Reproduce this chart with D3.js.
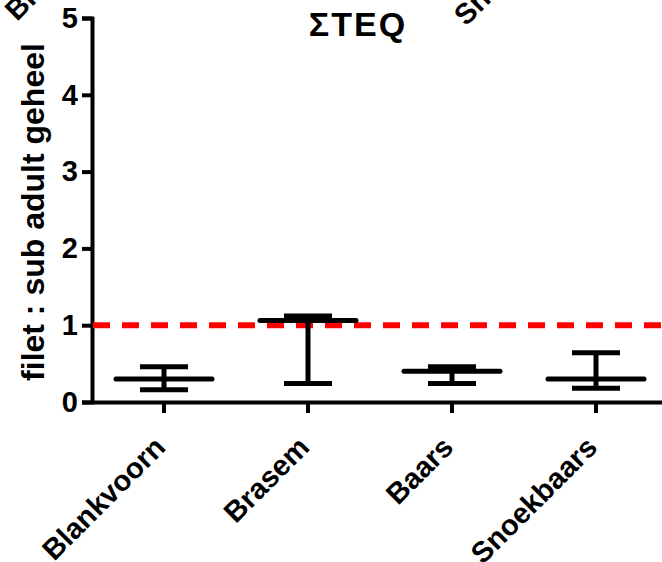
<!DOCTYPE html>
<html>
<head>
<meta charset="utf-8">
<script src="https://cdn.jsdelivr.net/npm/d3@7"></script>
<style>
  html, body { margin: 0; padding: 0; background: #fff; }
  svg { display: block; }
  text { font-family: "Liberation Sans", Arial, sans-serif; font-weight: bold; fill: #000; }
</style>
</head>
<body>
<svg id="chart" width="662" height="562"></svg>
<script>
// Species ratios (fillet : whole sub-adult fish) for ΣTEQ
const categories = ["Blankvoorn", "Brasem", "Baars", "Snoekbaars"];
const medians = [0.30, 1.06, 0.40, 0.30];
const lows = [0.16, 0.24, 0.24, 0.18];
const highs = [0.46, 1.12, 0.46, 0.64];
const yTicks = [0, 1, 2, 3, 4, 5];
const referenceLevel = 1;
// Labels of the panel above, running off the top edge
const upperLabels = ["Blankvoorn", "Snoekbaars"];

const svg = d3.select("#chart");

const x = d3.scaleBand().domain(categories).range([92, 668]);
const y = d3.scaleLinear().domain([0, 5]).range([402, 18]);

// Y axis
const yAxis = svg.append("g")
  .attr("transform", "translate(92,0)")
  .call(d3.axisLeft(y).tickValues(yTicks).tickFormat(d3.format("d"))
    .tickSize(10).tickSizeOuter(10).tickPadding(4));
yAxis.selectAll("path, line").attr("stroke", "#000").attr("stroke-width", 4);
yAxis.selectAll("text")
  .attr("font-size", 29)
  .attr("font-family", "Liberation Sans, Arial, sans-serif")
  .attr("font-weight", "bold")
  .attr("fill", "#000");

// X axis
const xAxis = svg.append("g")
  .attr("transform", "translate(0,402)")
  .call(d3.axisBottom(x).tickSize(11).tickSizeOuter(0).tickFormat(""));
xAxis.selectAll("path, line").attr("stroke", "#000").attr("stroke-width", 4);

// Rotated category labels
svg.append("g").selectAll("text")
  .data(categories)
  .join("text")
  .attr("transform", d => `translate(${x(d) + x.bandwidth() / 2 + 3},449) rotate(-45)`)
  .attr("text-anchor", "end")
  .attr("font-size", 29)
  .text(d => d);

// Reference line at 1
svg.append("line")
  .attr("x1", 93).attr("x2", 662)
  .attr("y1", y(referenceLevel)).attr("y2", y(referenceLevel))
  .attr("stroke", "#ff0000")
  .attr("stroke-width", 6)
  .attr("stroke-dasharray", "17,12");

// Range bars with median
const groups = svg.append("g").selectAll("g")
  .data(categories.map((c, i) => ({ c, med: medians[i], lo: lows[i], hi: highs[i] })))
  .join("g")
  .attr("transform", d => `translate(${x(d.c) + x.bandwidth() / 2},0)`);

groups.append("line")
  .attr("x1", 0).attr("x2", 0)
  .attr("y1", d => y(d.lo)).attr("y2", d => y(d.hi))
  .attr("stroke", "#000").attr("stroke-width", 5);

groups.append("line")
  .attr("x1", -24).attr("x2", 24)
  .attr("y1", d => y(d.hi)).attr("y2", d => y(d.hi))
  .attr("stroke", "#000").attr("stroke-width", 5);

groups.append("line")
  .attr("x1", -24).attr("x2", 24)
  .attr("y1", d => y(d.lo)).attr("y2", d => y(d.lo))
  .attr("stroke", "#000").attr("stroke-width", 5);

groups.append("line")
  .attr("x1", -48).attr("x2", 48)
  .attr("y1", d => y(d.med)).attr("y2", d => y(d.med))
  .attr("stroke", "#000").attr("stroke-width", 5)
  .attr("stroke-linecap", "round");

// Title
svg.append("text")
  .attr("x", 358).attr("y", 36)
  .attr("text-anchor", "middle")
  .attr("font-size", 34)
  .attr("letter-spacing", 2)
  .text("ΣTEQ");

// Y axis title
svg.append("text")
  .attr("transform", "translate(44,212) rotate(-90)")
  .attr("text-anchor", "middle")
  .attr("font-size", 32)
  .text("filet : sub adult geheel");

// Clipped labels from the panel above
svg.append("g").selectAll("text")
  .data(upperLabels)
  .join("text")
  .attr("transform", (d, i) => `translate(${[17, 466][i]},${[22, 27][i]}) rotate(-45)`)
  .attr("font-size", 29)
  .text(d => d);
</script>
</body>
</html>
